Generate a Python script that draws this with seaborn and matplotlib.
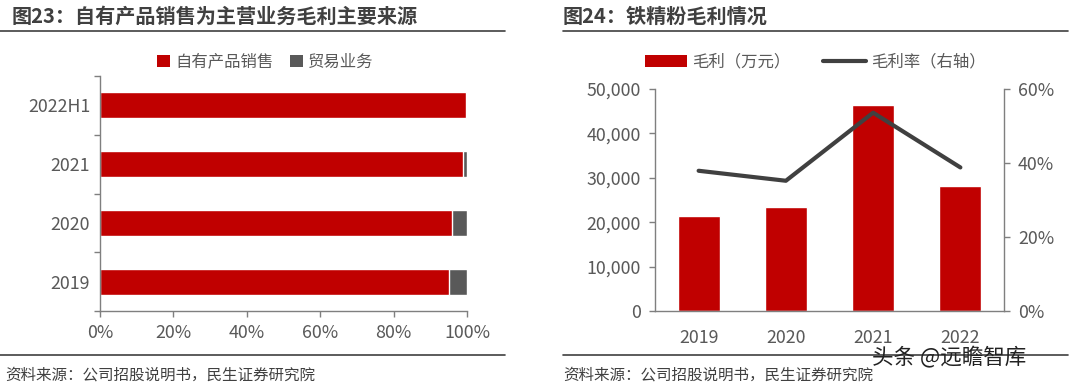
import matplotlib
matplotlib.use("Agg")
import matplotlib.pyplot as plt
import seaborn as sns
import numpy as np
import pandas as pd
from matplotlib.ticker import FuncFormatter, FixedLocator
from matplotlib.patches import Patch
from matplotlib.lines import Line2D

sns.set_theme(style="white")
plt.rcParams['font.family'] = ['Noto Sans CJK SC', 'DejaVu Sans']
plt.rcParams['axes.unicode_minus'] = False

# ---- data ----
left_categories = ["2022H1", "2021", "2020", "2019"]
own_sales_pct = [99.8, 99.0, 96.0, 95.1]
trade_pct = [0.2, 1.0, 4.0, 4.9]
left_series = ["自有产品销售", "贸易业务"]
left_xticks = [0, 20, 40, 60, 80, 100]

years = ["2019", "2020", "2021", "2022"]
gross_profit = [21500, 23500, 46300, 28200]
gross_margin = [37.9, 35.2, 53.6, 38.8]
right_series = ["毛利（万元）", "毛利率（右轴）"]

title_left = "图23：自有产品销售为主营业务毛利主要来源"
title_right = "图24：铁精粉毛利情况"
source_text = "资料来源：公司招股说明书，民生证券研究院"
watermark = "头条 @远瞻智库"

RED = "#C00000"
GRAY = "#595959"
LINE = "#404040"
TXT = "#595959"
TICK_FS = 12.8

fig = plt.figure(figsize=(10.8, 3.85), dpi=100)
W, H = 1080, 385

def fx(px):
    return px / W

def fy(py):
    return 1 - py / H

# ---- left chart ----
axL = fig.add_axes([fx(100), fy(311), fx(367), (311 - 76) / H])
dfL = pd.DataFrame({"cat": left_categories,
                    "total": [a + b for a, b in zip(own_sales_pct, trade_pct)],
                    "own": own_sales_pct})
sns.barplot(data=dfL, y="cat", x="total", color=GRAY, width=0.44, ax=axL,
            orient="h", saturation=1)
sns.barplot(data=dfL, y="cat", x="own", color=RED, width=0.44, ax=axL,
            orient="h", saturation=1)
axL.set_xlim(0, 100)
axL.set_ylim(3.5, -0.5)
axL.set_xlabel("")
axL.set_ylabel("")
axL.xaxis.set_major_locator(FixedLocator(left_xticks))
axL.xaxis.set_major_formatter(FuncFormatter(lambda v, p: f"{v:.0f}%"))
for s in ["top", "right"]:
    axL.spines[s].set_visible(False)
for s in ["left", "bottom"]:
    axL.spines[s].set_color("#7f7f7f")
    axL.spines[s].set_linewidth(1.0)
axL.tick_params(axis="x", colors="#7f7f7f", labelcolor=TXT, labelsize=TICK_FS,
                direction="out", length=4, width=1, bottom=True, pad=5)
axL.tick_params(axis="y", which="major", left=False, length=0, labelcolor=TXT,
                labelsize=TICK_FS, pad=7)
axL.set_yticks(np.arange(-0.5, 4, 1), minor=True)
axL.tick_params(axis="y", which="minor", left=True, direction="out",
                length=4, width=1, colors="#7f7f7f")
axL.grid(False)

handlesL = [Patch(facecolor=RED, edgecolor="none", label=left_series[0]),
            Patch(facecolor=GRAY, edgecolor="none", label=left_series[1])]
fig.legend(handles=handlesL, loc="center", bbox_to_anchor=(fx(265), fy(62)),
           ncol=2, frameon=False, fontsize=11.8, handlelength=0.8,
           handleheight=0.8, handletextpad=0.3, columnspacing=1.0,
           labelcolor=TXT)

# ---- right chart ----
axR = fig.add_axes([fx(655), fy(311), fx(349), (311 - 89) / H])
dfR = pd.DataFrame({"year": years, "profit": gross_profit, "margin": gross_margin})
sns.barplot(data=dfR, x="year", y="profit", color=RED, width=0.48, ax=axR,
            saturation=1)
axR.set_ylim(0, 50000)
axR.set_xlim(-0.5, 3.5)
axR.set_yticks([0, 10000, 20000, 30000, 40000, 50000])
axR.yaxis.set_major_formatter(FuncFormatter(lambda v, p: f"{v:,.0f}"))
axR.set_xlabel("")
axR.set_ylabel("")
for s in ["top", "right"]:
    axR.spines[s].set_visible(False)
for s in ["left", "bottom"]:
    axR.spines[s].set_color("#7f7f7f")
    axR.spines[s].set_linewidth(1.0)
axR.tick_params(axis="y", left=True, direction="out", length=4, width=1,
                colors="#7f7f7f", labelcolor=TXT, labelsize=TICK_FS, pad=6)
axR.tick_params(axis="x", bottom=False, labelcolor=TXT, labelsize=TICK_FS, pad=7)
axR.grid(False)

ax2 = axR.twinx()
sns.lineplot(data=dfR, x="year", y="margin", color=LINE, linewidth=3, ax=ax2,
             sort=False)
ax2.set_ylim(0, 60)
ax2.set_xlim(-0.5, 3.5)
ax2.set_yticks([0, 20, 40, 60])
ax2.yaxis.set_major_formatter(FuncFormatter(lambda v, p: f"{v:.0f}%"))
ax2.set_ylabel("")
for s in ["top", "left", "bottom"]:
    ax2.spines[s].set_visible(False)
ax2.spines["right"].set_color("#7f7f7f")
ax2.spines["right"].set_linewidth(1.0)
ax2.tick_params(axis="y", right=True, direction="out", length=4, width=1,
                colors="#7f7f7f", labelcolor=TXT, labelsize=TICK_FS, pad=6)
ax2.grid(False)

handlesR = [Patch(facecolor=RED, edgecolor="none", label=right_series[0]),
            Line2D([0], [0], color=LINE, linewidth=3, label=right_series[1])]
fig.legend(handles=handlesR, loc="center", bbox_to_anchor=(fx(815), fy(62)),
           ncol=2, frameon=False, fontsize=11.8, handlelength=2.6,
           handleheight=0.7, handletextpad=0.3, columnspacing=2.0,
           labelcolor=TXT)

# ---- titles, rules, sources ----
fig.text(fx(12), fy(16), title_left, fontsize=14.5, fontweight="bold",
         color="#404040", ha="left", va="center")
fig.text(fx(563), fy(16), title_right, fontsize=14.5, fontweight="bold",
         color="#404040", ha="left", va="center")
for x0, x1 in [(0, 505), (563, 1068)]:
    fig.add_artist(Line2D([fx(x0), fx(x1)], [fy(31), fy(31)], color="#404040",
                          linewidth=1.2))
    fig.add_artist(Line2D([fx(x0), fx(x1)], [fy(355), fy(355)], color="#404040",
                          linewidth=1.2))
fig.text(fx(5), fy(375), source_text, fontsize=11.2, color="#404040",
         ha="left", va="center")
fig.text(fx(563), fy(375), source_text, fontsize=11.2, color="#404040",
         ha="left", va="center")
fig.text(fx(872), fy(358), watermark, fontsize=15.5, color="#222222",
         ha="left", va="center")

fig.savefig("out.png", dpi=100)
